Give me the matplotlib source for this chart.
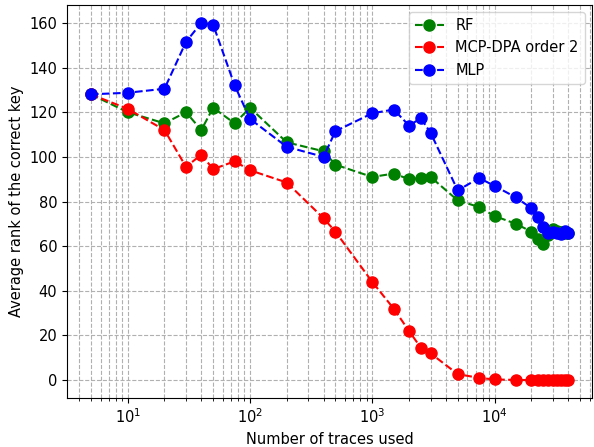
import matplotlib
matplotlib.use("Agg")
import matplotlib.pyplot as plt

# number of traces (x) for each series
traces = [5, 10, 20, 30, 40, 50, 75, 100, 200, 400, 500,
          1000, 1500, 2000, 2500, 3000, 5000, 7500, 10000, 15000,
          20000, 22500, 25000, 27500, 30000, 32500, 35000, 37500, 40000]

rank_rf = [128, 120, 115, 120, 112, 122, 115, 122, 106.5, 102.5, 96.5,
           91, 92.5, 90, 90.5, 91, 80.5, 77.5, 73.5, 70,
           66.5, 63, 61, 65, 67.5, 67, 66.5, 66, 66]
rank_dpa = [128, 121.5, 112, 95.5, 101, 94.5, 98, 94, 88.5, 72.5, 66.5,
            44, 32, 22, 14.5, 12, 2.7, 1.0, 0.3, 0.1,
            0, 0, 0, 0, 0, 0, 0, 0, 0]
rank_mlp = [128, 128.7, 130.5, 151.5, 160, 159.2, 132, 117, 104.5, 100, 111.5,
            119.5, 121.2, 114, 117.3, 110.8, 85, 90.5, 87, 81.8,
            77, 73, 68.8, 66, 66.5, 66, 65.3, 67, 66]

plt.rcParams['font.size'] = 10.5

fig = plt.figure(figsize=(5.94, 4.47), dpi=100)
ax = fig.add_axes([0.1128, 0.1096, 0.8838, 0.8792])

ax.plot(traces, rank_rf, '--o', color='g', markersize=8, linewidth=1.5, label='RF')
ax.plot(traces, rank_dpa, '--o', color='r', markersize=8, linewidth=1.5, label='MCP-DPA order 2')
ax.plot(traces, rank_mlp, '--o', color='b', markersize=8, linewidth=1.5, label='MLP')

ax.set_xscale('log')
ax.grid(True, which='major', linestyle='--', color='#b0b0b0', linewidth=0.8)
ax.grid(True, which='minor', axis='x', linestyle='--', color='#b0b0b0', linewidth=0.8)
ax.set_xlabel('Number of traces used')
ax.set_ylabel('Average rank of the correct key')
ax.legend(loc='upper right')

plt.savefig('out.png', dpi=100)
